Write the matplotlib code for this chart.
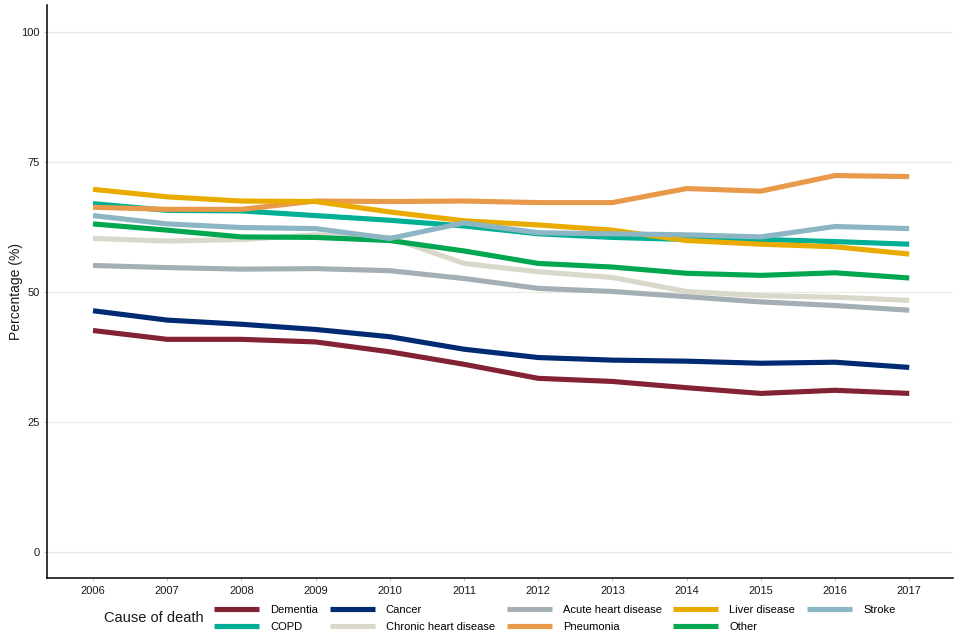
import matplotlib
matplotlib.use("Agg")
import matplotlib.pyplot as plt
from matplotlib.lines import Line2D

years = [2006, 2007, 2008, 2009, 2010, 2011, 2012, 2013, 2014, 2015, 2016, 2017]

dementia = [42.6, 40.9, 40.9, 40.4, 38.5, 36.1, 33.4, 32.8, 31.6, 30.5, 31.1, 30.5]
copd = [67.0, 65.7, 65.6, 64.7, 63.8, 62.7, 61.2, 60.5, 60.1, 60.1, 59.7, 59.2]
cancer = [46.4, 44.6, 43.8, 42.8, 41.4, 39.0, 37.4, 36.9, 36.7, 36.3, 36.5, 35.5]
chronic_heart = [60.3, 59.8, 60.1, 61.0, 60.5, 55.5, 53.9, 52.8, 50.1, 49.3, 49.0, 48.4]
acute_heart = [55.1, 54.7, 54.4, 54.5, 54.1, 52.6, 50.7, 50.1, 49.1, 48.1, 47.4, 46.5]
pneumonia = [66.3, 65.9, 65.9, 67.5, 67.4, 67.5, 67.2, 67.2, 69.9, 69.4, 72.4, 72.2]
liver = [69.75, 68.3, 67.5, 67.4, 65.4, 63.7, 62.9, 61.9, 59.9, 59.2, 58.7, 57.3]
other = [63.1, 61.9, 60.6, 60.5, 59.9, 57.9, 55.5, 54.8, 53.6, 53.2, 53.7, 52.7]
stroke = [64.7, 63.1, 62.4, 62.2, 60.3, 63.3, 61.4, 61.2, 61.0, 60.6, 62.6, 62.2]

series_names = ["Dementia", "COPD", "Cancer", "Chronic heart disease",
                "Acute heart disease", "Pneumonia", "Liver disease", "Other", "Stroke"]
series_values = [dementia, copd, cancer, chronic_heart, acute_heart,
                 pneumonia, liver, other, stroke]
series_colors = ["#832233", "#00AF94", "#002A72", "#D9D8CB", "#A4AEB5",
                 "#E9994A", "#EAAB00", "#00A650", "#8DB6C5"]

y_ticks = [0, 25, 50, 75, 100]

plt.rcParams['font.family'] = ['Liberation Sans', 'DejaVu Sans']

fig = plt.figure(figsize=(9.6, 6.4), dpi=100)
ax = fig.add_axes([47 / 960, 1 - 578 / 640, (953 - 47) / 960, (578 - 5) / 640])

lw = 3.7
for name, vals, col in zip(series_names, series_values, series_colors):
    ax.plot(years, vals, color=col, lw=lw, solid_capstyle='butt', label=name)

ax.set_xlim(2005.38, 2017.59)
ax.set_ylim(-5, 105.2)
ax.set_xticks(years)
ax.set_xticklabels([str(y) for y in years])
ax.set_yticks(y_ticks)
ax.set_yticklabels([str(t) for t in y_ticks])

ax.grid(axis='y', color='#EAEAE0', lw=0.9)
ax.grid(axis='x', visible=False)
ax.set_axisbelow(True)

for s in ['top', 'right']:
    ax.spines[s].set_visible(False)
for s in ['left', 'bottom']:
    ax.spines[s].set_color('black')
    ax.spines[s].set_linewidth(1.1)

ax.tick_params(axis='both', labelsize=8, length=2.5, width=0.6,
               labelcolor='#1a1a1a', color='#BBBBBB', pad=3)

ax.set_ylabel("Percentage (%)", fontsize=10, color='#1a1a1a')
ax.yaxis.set_label_coords((23 - 47) / 906, 0.5)

handles = [Line2D([0], [0], color=c, lw=lw, solid_capstyle='butt') for c in series_colors]
leg = fig.legend(handles, series_names, ncol=5, loc='center left',
                 bbox_to_anchor=(214 / 960, 1 - 618.5 / 640), frameon=False,
                 fontsize=8, handlelength=4.05, handletextpad=1.0,
                 columnspacing=1.05, labelspacing=0.65, borderpad=0, borderaxespad=0)

fig.text(104 / 960, 1 - 618 / 640, "Cause of death", fontsize=10.5, va='center',
         ha='left', color='#1a1a1a')

fig.savefig("out.png", dpi=100)
